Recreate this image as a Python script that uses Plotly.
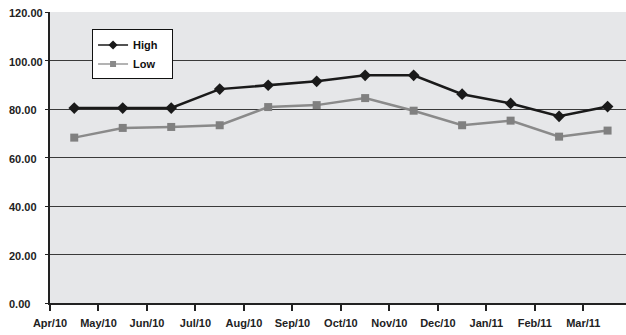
import plotly.graph_objects as go

months = ["Apr/10", "May/10", "Jun/10", "Jul/10", "Aug/10", "Sep/10",
          "Oct/10", "Nov/10", "Dec/10", "Jan/11", "Feb/11", "Mar/11"]
high = [80.4, 80.4, 80.4, 88.2, 89.8, 91.4, 93.9, 93.9, 86.1, 82.3, 77.0, 81.0]
low = [68.2, 72.2, 72.6, 73.3, 80.8, 81.6, 84.5, 79.3, 73.3, 75.2, 68.6, 71.1]
y_ticks = [0, 20, 40, 60, 80, 100, 120]

tick_pos = list(range(len(months)))
point_pos = [i + 0.5 for i in tick_pos]

FAM = "Liberation Sans, Arial, sans-serif"
font = dict(family=FAM, size=11, color="#222")
PAD = "\u00a0\u00a0\u00a0"

fig = go.Figure()
fig.add_trace(go.Scatter(
    x=point_pos, y=high, name="High", mode="lines+markers", showlegend=False,
    line=dict(color="#1a1a1a", width=2.5),
    marker=dict(symbol="diamond", size=9, color="#1a1a1a")))
fig.add_trace(go.Scatter(
    x=point_pos, y=low, name="Low", mode="lines+markers", showlegend=False,
    line=dict(color="#8a8a8a", width=2.5),
    marker=dict(symbol="square", size=8, color="#808080")))
# legend entries (thinner lines, smaller markers as in the reference legend)
fig.add_trace(go.Scatter(
    x=[None], y=[None], name="<b>High</b>" + PAD, mode="lines+markers",
    line=dict(color="#1a1a1a", width=1.5),
    marker=dict(symbol="diamond", size=7, color="#1a1a1a")))
fig.add_trace(go.Scatter(
    x=[None], y=[None], name="<b>Low</b>" + PAD, mode="lines+markers",
    line=dict(color="#9a9a9a", width=1.5),
    marker=dict(symbol="square", size=6, color="#8a8a8a")))

fig.update_layout(
    width=626, height=335,
    margin=dict(l=50, r=0, t=12, b=32),
    paper_bgcolor="white", plot_bgcolor="#e6e7e9",
    font=font,
    showlegend=True,
    legend=dict(x=0.073, y=0.94, xanchor="left", yanchor="top",
                bgcolor="white", bordercolor="#111", borderwidth=1,
                font=dict(family=FAM, size=11, color="#111"),
                tracegroupgap=0),
)
for v in y_ticks:
    fig.add_annotation(
        xref="paper", yref="y", x=-43 / 576, y=v, xanchor="left", yanchor="middle",
        text="<b>%.2f</b>" % v, showarrow=False, yshift=-1,
        font=dict(family=FAM, size=11, color="#222"))

fig.update_xaxes(
    range=[0, 11.88], tickmode="array", tickvals=tick_pos,
    ticktext=["<b>%s</b>" % m for m in months],
    showgrid=False, zeroline=False,
    showline=True, linecolor="#222", linewidth=1.5,
    ticks="outside", ticklen=6, tickwidth=1.5, tickcolor="#222",
    ticklabelstandoff=3)
fig.update_yaxes(
    range=[0, 120], tickmode="array", tickvals=y_ticks, showticklabels=False,
    showgrid=True, gridcolor="#3a3a3a", gridwidth=1, zeroline=False,
    showline=True, linecolor="#222", linewidth=1.5,
    ticks="outside", ticklen=3, tickcolor="#222")

fig.write_html("out.html")
